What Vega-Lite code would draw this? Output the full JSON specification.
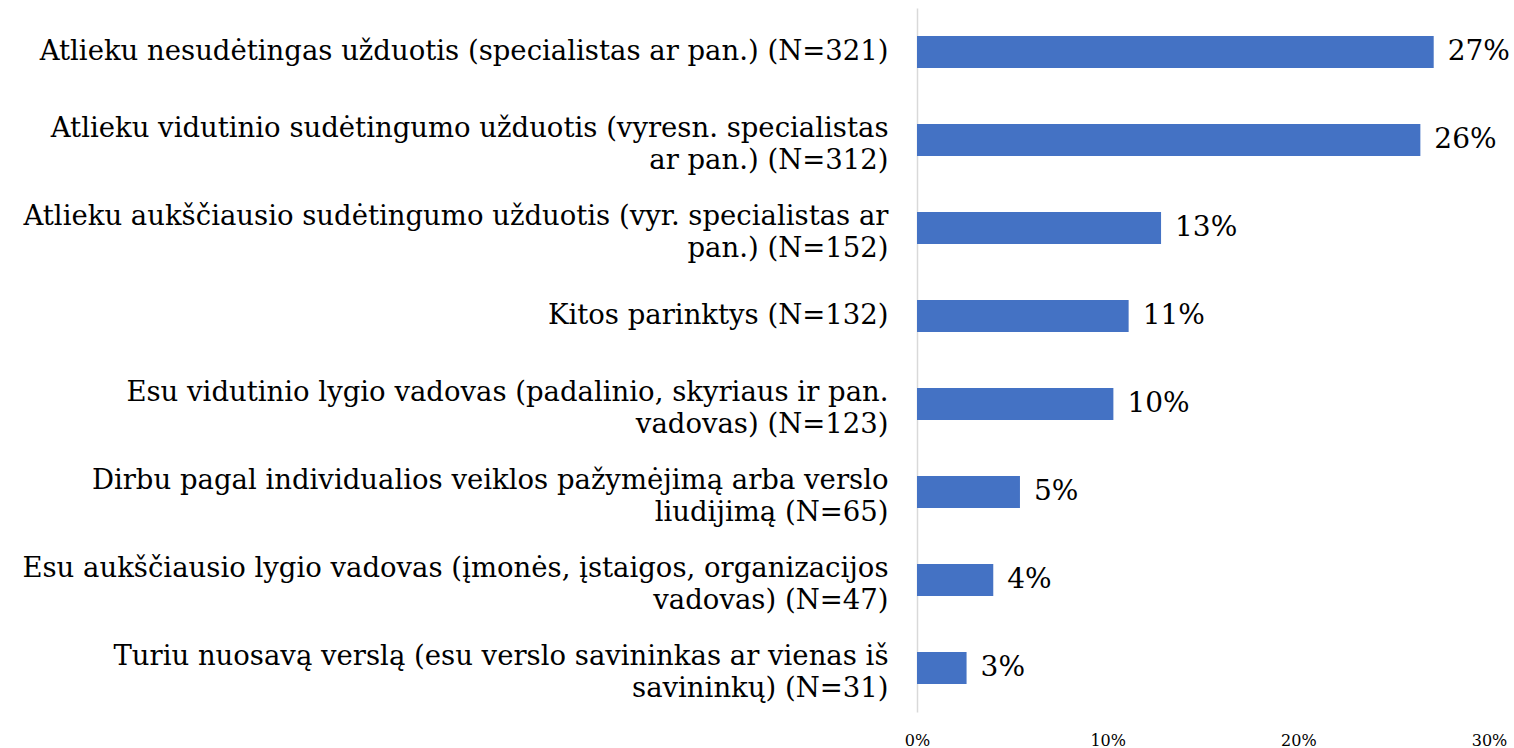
{
  "$schema": "https://vega.github.io/schema/vega-lite/v6.json",
  "autosize": "none",
  "width": 572,
  "height": 704,
  "padding": {"left": 917, "top": 8, "right": 25, "bottom": 36},
  "background": "white",
  "config": {"view": {"stroke": null}, "font": "DejaVu Serif"},
  "data": {
    "values": [
      {"cat": "Atlieku nesudėtingas užduotis (specialistas ar pan.) (N=321)", "share": 0.271},
      {"cat": "Atlieku vidutinio sudėtingumo užduotis (vyresn. specialistas|ar pan.) (N=312)", "share": 0.264},
      {"cat": "Atlieku aukščiausio sudėtingumo užduotis (vyr. specialistas ar|pan.) (N=152)", "share": 0.128},
      {"cat": "Kitos parinktys (N=132)", "share": 0.111},
      {"cat": "Esu vidutinio lygio vadovas (padalinio, skyriaus ir pan.|vadovas) (N=123)", "share": 0.103},
      {"cat": "Dirbu pagal individualios veiklos pažymėjimą arba verslo|liudijimą (N=65)", "share": 0.054},
      {"cat": "Esu aukščiausio lygio vadovas (įmonės, įstaigos, organizacijos|vadovas) (N=47)", "share": 0.040},
      {"cat": "Turiu nuosavą verslą (esu verslo savininkas ar vienas iš|savininkų) (N=31)", "share": 0.026}
    ]
  },
  "encoding": {
    "y": {
      "field": "cat",
      "type": "nominal",
      "sort": null,
      "scale": {"paddingInner": 0.636, "paddingOuter": 0.318},
      "axis": {
        "title": null,
        "labelExpr": "split(datum.label, '|')",
        "labelFontSize": 27.5,
        "labelColor": "#000000",
        "labelLineHeight": 32,
        "labelPadding": 29,
        "labelLimit": 920,
        "labelOffset": {"condition": {"test": "indexof(datum.value, '|') >= 0", "value": -11}, "value": 0},
        "ticks": false,
        "domain": true,
        "domainColor": "#d9d9d9",
        "domainWidth": 1.5
      }
    },
    "x": {
      "field": "share",
      "type": "quantitative",
      "scale": {"domain": [0, 0.3]},
      "axis": {
        "title": null,
        "format": ".0%",
        "values": [0, 0.1, 0.2, 0.3],
        "grid": false,
        "domain": false,
        "ticks": false,
        "labelFlush": false,
        "labelFontSize": 16,
        "labelColor": "#000000",
        "labelPadding": 20
      }
    }
  },
  "layer": [
    {"mark": {"type": "bar", "color": "#4472C4"}},
    {
      "mark": {"type": "text", "align": "left", "dx": 14, "fontSize": 28, "color": "#000000"},
      "encoding": {"text": {"field": "share", "type": "quantitative", "format": ".0%"}}
    }
  ]
}
